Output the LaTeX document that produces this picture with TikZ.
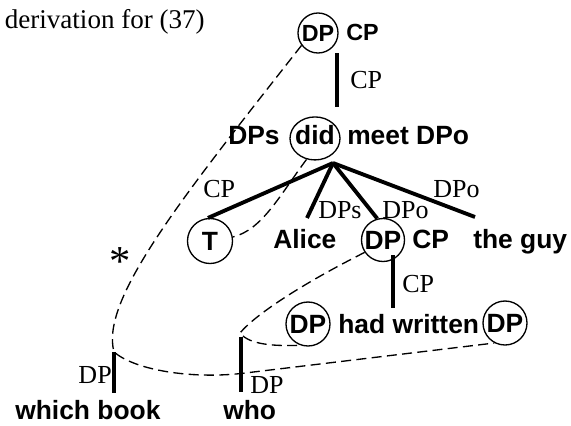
\documentclass[tikz,border=0pt]{standalone}
\usepackage{fontspec}
\setmainfont{Liberation Serif}
\setsansfont{Liberation Sans}
\usetikzlibrary{shapes.geometric}
\begin{document}
\begin{tikzpicture}[x=0.75pt,y=-0.75pt,
  lbl/.style={inner sep=0pt, font=\fontsize{19.5pt}{22pt}\selectfont, anchor=base west},
  wrd/.style={inner sep=0pt, font=\fontsize{19.8pt}{22pt}\selectfont\sffamily\bfseries, anchor=base west},
  smallwrd/.style={inner sep=0pt, font=\fontsize{17.5pt}{20pt}\selectfont\sffamily\bfseries, anchor=base west},
  ring/.style={circle, draw, line width=1pt, inner sep=0pt, minimum size=#1, font=\fontsize{19.8pt}{22pt}\selectfont\sffamily\bfseries},
  branch/.style={line width=2.9pt},
  trace/.style={line width=1pt, dash pattern=on 7.5pt off 4pt}
]
\useasboundingbox (0,0) rectangle (571,425);

% title
\node[lbl, anchor=base east, font=\fontsize{20.3pt}{24pt}\selectfont] (title) at (205,28) {derivation for (37)};

% top row
\node[ring=30pt, font=\fontsize{17.5pt}{20pt}\selectfont\sffamily\bfseries] (tDP) at (318,33) {DP};
\node[smallwrd] (tCP) at (346,40.5) {CP};
\coordinate (vTopA) at (337,53);
\coordinate (vTopB) at (337,107);
\draw[branch] (vTopA) -- (vTopB);
\node[lbl] (lCP1) at (350,88) {CP};

% did row
\node[wrd] (DPs) at (228,144) {DPs};
\node[ellipse, draw, line width=1pt, inner sep=0pt, minimum width=37.5pt, minimum height=32.25pt,
      text depth=6pt, anchor=base, font=\fontsize{19.8pt}{22pt}\selectfont\sffamily\bfseries] (did) at (315,144) {\makebox[0pt]{did}};
\node[wrd] (meet) at (347,144) {meet DPo};
\coordinate (apex) at (333,163);

% third row
\node[ring=33.75pt] (T) at (210,241) {T};
\node[wrd] (Alice) at (273,248) {Alice};
\node[ring=32.25pt] (mDP) at (383,240) {DP};
\node[wrd] (mCP) at (412,248) {CP};
\node[wrd] (guy) at (473,248) {the guy};
\coordinate (aliceTop) at (307,218);
\coordinate (guyTop) at (475,217);
\draw[branch] (apex) -- (T.95);
\draw[branch] (apex) -- (aliceTop);
\draw[branch] (apex) -- (mDP.105);
\draw[branch] (apex) -- (guyTop);
\node[lbl] (lCP2) at (203,197) {CP};
\node[lbl] (lDPs) at (318,218) {DPs};
\node[lbl] (lDPo1) at (382,218) {DPo};
\node[lbl] (lDPo2) at (433,197) {DPo};

% middle vertical
\coordinate (vMidA) at (393,255);
\coordinate (vMidB) at (393,308);
\draw[branch] (vMidA) -- (vMidB);
\node[lbl] (lCP3) at (402,292) {CP};

% had written row
\node[ring=33pt] (lDP) at (308,324) {DP};
\node[wrd] (had) at (338,333) {had written};
\node[ring=33pt] (rDP) at (505,323) {DP};

% bottom row
\node[wrd] (which) at (15,419) {which book};
\node[wrd] (who) at (223,419) {who};
\coordinate (whichTop) at (114,352);
\coordinate (whichBot) at (114,393);
\coordinate (whoTop) at (241,337);
\coordinate (whoBot) at (241,392);
\draw[branch] (whichTop) -- (whichBot);
\draw[branch] (whoTop) -- (whoBot);
\node[lbl, anchor=base east] (lDPwhich) at (112,383) {DP};
\node[lbl] (lDPwho) at (250,393) {DP};
\node[inner sep=0pt, anchor=center, font=\fontsize{32pt}{34pt}\selectfont] (star) at (120,262) {*};

% traces
\coordinate (crossWho) at (241,373.5);
\coordinate (whoHook) at (240,333);
\draw[trace] (tDP.217) .. controls (180,200) and (100,300) .. (whichTop)
   .. controls (135,370) and (190,379) .. (crossWho) -- (rDP.242);
\draw[trace] (mDP.214) .. controls (300,285) and (255,315) .. (whoHook)
   .. controls (250,346) and (280,346) .. (lDP.250);
\draw[trace] (did.248) .. controls (280,195) and (262,230) .. (T.10);
\end{tikzpicture}
\end{document}
